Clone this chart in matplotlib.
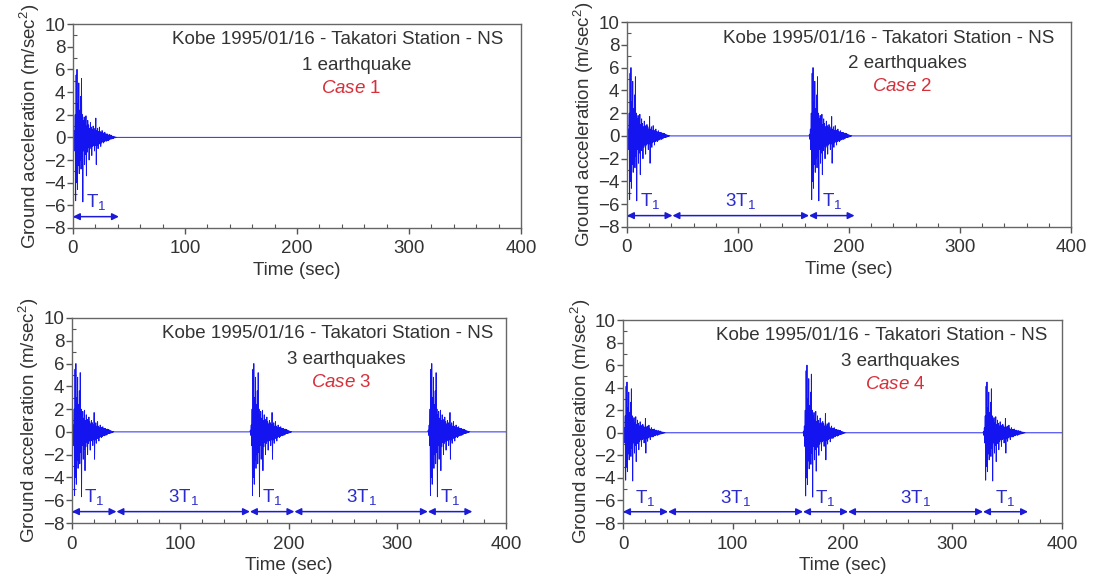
import matplotlib
matplotlib.use("Agg")
import matplotlib.pyplot as plt
import numpy as np
from matplotlib.ticker import MultipleLocator

plt.rcParams['font.family'] = ['Liberation Sans', 'DejaVu Sans']
plt.rcParams['mathtext.fontset'] = 'custom'
plt.rcParams['mathtext.rm'] = 'Liberation Sans'
plt.rcParams['mathtext.it'] = 'Liberation Sans:italic'

record_dt = 0.4
record_acc = [
    0.0, 0.15, -0.3, 0.6, -1.2, 2.0, -5.6, 5.5, -4.0, 6.0,
    -4.6, 3.0, -2.5, 4.8, -3.2, 2.4, -2.0, 3.6, -2.8, 5.2,
    -1.8, 2.0, -5.7, 1.5, -1.2, 1.8, -2.4, 1.2, -1.5, 1.9,
    -3.4, 1.0, -1.3, 1.5, -0.9, 1.1, -2.0, 0.8, -1.0, 1.3,
    -0.8, 0.9, -1.6, 0.7, -0.8, 1.0, -0.7, 0.8, -1.2, 0.6,
    -0.7, 1.7, -2.4, 0.6, -0.7, 0.8, -1.0, 0.5, -0.6, 0.9,
    -0.5, 0.5, -0.8, 0.4, -0.5, 0.6, -0.4, 0.4, -0.5, 0.35,
    -0.4, 0.45, -0.3, 0.3, -0.35, 0.3, -0.25, 0.3, -0.3, 0.2,
    -0.25, 0.25, -0.2, 0.2, -0.15, 0.2, -0.15, 0.12, -0.12, 0.1,
    -0.1, 0.08, -0.06, 0.05, -0.04, 0.03, -0.02, 0.01, 0.0, 0.0,
]
t_end = 400.0

case_names = ["1", "2", "3", "4"]
case_subtitles = ["1 earthquake", "2 earthquakes", "3 earthquakes", "3 earthquakes"]
case_starts = [[0], [0, 164], [0, 164, 328], [0, 164, 328]]
case_scales = [[1.0], [1.0, 1.0], [1.0, 1.0, 1.0], [0.75, 1.0, 0.75]]
case_segments = [
    [(0, 41)],
    [(0, 41), (41, 164), (164, 205)],
    [(0, 41), (41, 164), (164, 205), (205, 328), (328, 369)],
    [(0, 41), (41, 164), (164, 205), (205, 328), (328, 369)],
]
case_seg_labels = [
    ["T$_1$"],
    ["T$_1$", "3T$_1$", "T$_1$"],
    ["T$_1$", "3T$_1$", "T$_1$", "3T$_1$", "T$_1$"],
    ["T$_1$", "3T$_1$", "T$_1$", "3T$_1$", "T$_1$"],
]
title_text = "Kobe 1995/01/16 - Takatori Station - NS"

positions = [
    [0.0667, 0.6076, 0.4096, 0.3510],
    [0.5731, 0.6093, 0.4059, 0.3527],
    [0.0658, 0.0998, 0.3967, 0.3529],
    [0.5695, 0.0998, 0.4013, 0.3494],
]

LINE_BLUE = '#1414f0'
ARROW_BLUE = '#1a1ad8'
TEXT_BLUE = '#2b2bcc'
RED = '#d62f3a'
DARK = '#333333'
FS = 13.5

fig = plt.figure(figsize=(10.94, 5.81), dpi=100)
rec = np.array(record_acc)
rec_t = np.arange(len(rec)) * record_dt

for i in range(4):
    ax = fig.add_axes(positions[i])
    ts, ys = [], []
    for s, k in zip(case_starts[i], case_scales[i]):
        ts.append(rec_t + s)
        ys.append(rec * k)
    ts.append(np.array([t_end]))
    ys.append(np.array([0.0]))
    t_all = np.concatenate(ts)
    y_all = np.concatenate(ys)
    ax.plot(t_all, y_all, color=LINE_BLUE, lw=0.65)

    for (a, b), lab in zip(case_segments[i], case_seg_labels[i]):
        ax.annotate('', xy=(b, -7), xytext=(a, -7),
                    arrowprops=dict(arrowstyle='<|-|>', color=ARROW_BLUE, lw=1.1,
                                    mutation_scale=10, shrinkA=0, shrinkB=0))
        ax.text((a + b) / 2, -5.75, lab, color=TEXT_BLUE, fontsize=FS,
                ha='center', va='center')

    ax.text(236, 8.6, title_text, ha='center', va='center', fontsize=FS, color=DARK)
    ax.text(253, 6.35, case_subtitles[i], ha='center', va='center', fontsize=FS, color=DARK)
    ax.text(248, 4.3, r"$\mathit{Case}$ " + case_names[i], ha='center', va='center',
            fontsize=FS, color=RED)

    ax.set_xlim(0, 400)
    ax.set_ylim(-8, 10)
    ax.xaxis.set_major_locator(MultipleLocator(100))
    ax.xaxis.set_minor_locator(MultipleLocator(20))
    ax.yaxis.set_major_locator(MultipleLocator(2))
    ax.yaxis.set_minor_locator(MultipleLocator(1))
    ax.tick_params(which='major', direction='out', length=4, width=1, colors='#555555',
                   labelcolor=DARK, labelsize=FS, pad=1.5)
    ax.tick_params(axis='x', which='major', pad=5)
    ax.tick_params(which='minor', direction='in', length=3, width=0.8, colors='#555555')
    for sp in ax.spines.values():
        sp.set_color('#666666')
        sp.set_linewidth(1.0)
    ax.set_xlabel("Time (sec)", fontsize=FS, color=DARK, labelpad=3)
    ax.set_ylabel("Ground acceleration (m/sec$^2$)", fontsize=FS, color=DARK, labelpad=1)

fig.savefig("out.png", dpi=100)
